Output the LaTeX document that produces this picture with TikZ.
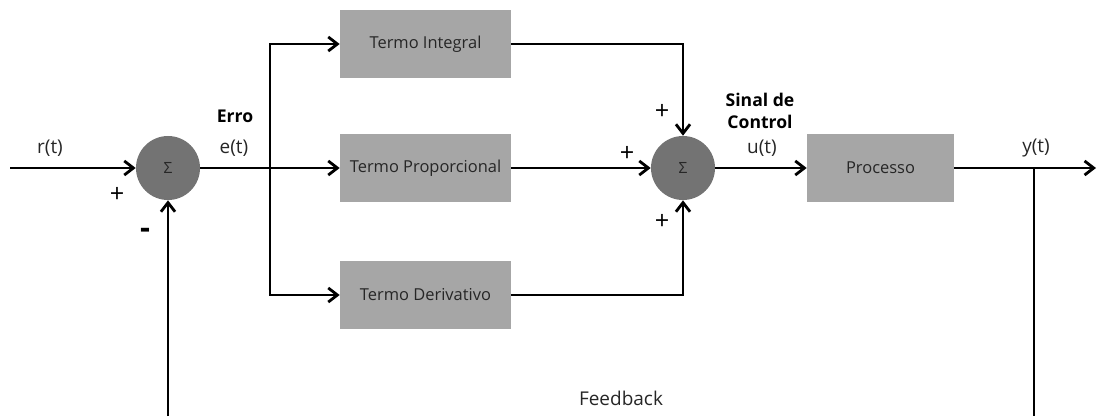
\documentclass[tikz,border=0pt]{standalone}
\usepackage{fontspec}
\setmainfont{Open Sans}
\usepackage{tikz}
\usetikzlibrary{arrows.meta,positioning,calc}

\definecolor{blkgray}{HTML}{A6A6A6}
\definecolor{sumgray}{HTML}{737373}
\definecolor{txtgray}{HTML}{262626}

\begin{document}
\begin{tikzpicture}[
  x=0.025cm, y=-0.025cm,
  blk/.style={rectangle, fill=blkgray, minimum width=4.275cm, minimum height=1.7cm, font=\fontsize{11.7}{14}\selectfont, text=txtgray},
  sumc/.style={circle, fill=sumgray, minimum size=1.6cm, inner sep=0pt, font=\fontsize{11}{13}\selectfont, text=txtgray},
  lbl/.style={draw=none, font=\fontsize{13.5}{16}\selectfont, text=txtgray, inner sep=1pt},
  sgn/.style={draw=none, font=\fontsize{18}{20}\selectfont, text=black, inner sep=1pt},
  hdr/.style={draw=none, font=\fontsize{12.5}{16}\selectfont\bfseries, text=black, align=center, inner sep=1pt},
  arr/.style={-{Straight Barb[length=6.5pt,width=10pt]}, line width=2pt},
  wire/.style={line width=2pt}
]
  \useasboundingbox (0,0) rectangle (1097,416);

  \node[sumc] (S1) at (168,168) {Σ};
  \node[sumc] (S2) at (683,168) {Σ};
  \node[blk] (I) at (425.5,44)  {Termo Integral};
  \node[blk] (P) at (425.5,168) {Termo Proporcional};
  \node[blk] (D) at (425.5,295) {Termo Derivativo};
  \node[blk, minimum width=3.675cm] (G) at (880.5,168) {Processo};

  \coordinate (rin)  at (10,168);
  \coordinate (br)   at (270,168);
  \coordinate (yout) at (1096,168);
  \coordinate (ytap) at (1034,168);
  \coordinate (fbR)  at (1034,416);
  \coordinate (fbL)  at (168,416);

  \draw[arr] (rin) -- (S1);
  \draw[arr] (S1) -- (P);
  \draw[arr] (br) |- (I);
  \draw[arr] (br) |- (D);
  \draw[arr] (I) -| (S2);
  \draw[arr] (P) -- (S2);
  \draw[arr] (D) -| (S2);
  \draw[arr] (S2) -- (G);
  \draw[arr] (G) -- (yout);
  \draw[wire] (ytap) -- (fbR);
  \draw[arr] (fbL) -- (S1);

  \node[lbl] at (50,148)  {r(t)};
  \node[lbl] at (234,148) {e(t)};
  \node[lbl] at (762,148) {u(t)};
  \node[lbl] at (1036,148) {y(t)};
  \node[sgn] at (117,195) {+};
  \node[sgn, font=\fontsize{22}{24}\selectfont\bfseries] at (145,233) {-};
  \node[sgn] at (662,112) {+};
  \node[sgn] at (627,154) {+};
  \node[sgn] at (662,222) {+};
  \node[hdr] at (235,116) {Erro};
  \node[hdr] at (760,111) {Sinal de\\Control};
  \node[lbl] at (621,398) {Feedback};
\end{tikzpicture}
\end{document}
